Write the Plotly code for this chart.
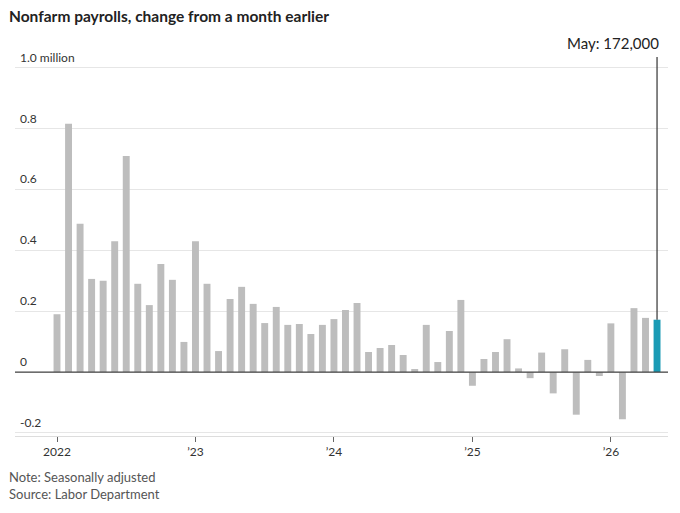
import plotly.graph_objects as go

values = [0.19,0.816,0.487,0.306,0.30,0.43,0.71,0.29,0.22,0.355,0.303,0.099,
          0.43,0.29,0.069,0.24,0.28,0.224,0.161,0.214,0.155,0.158,0.125,0.155,
          0.174,0.204,0.227,0.066,0.079,0.089,0.056,0.01,0.155,0.033,0.135,0.237,
          -0.045,0.043,0.066,0.108,0.012,-0.02,0.064,-0.07,0.075,-0.14,0.04,-0.013,
          0.16,-0.155,0.21,0.178,0.172]
tick_pos = [0,12,24,36,48]
tick_text = ["2022","’23","’24","’25","’26"]
ytick_vals = [-0.2,0,0.2,0.4,0.6,0.8,1.0]
ytick_text = ["-0.2","0","0.2","0.4","0.6","0.8","1.0 million"]

x = list(range(len(values)))
colors = ["#bdbdbd"]*(len(values)-1) + ["#1a9bb5"]
FONT = "Lato"
last = len(values)-1

fig = go.Figure(go.Bar(x=x, y=values, marker_color=colors, marker_line_width=0, width=0.6))

ann = []
for v, t in zip(ytick_vals, ytick_text):
    ann.append(dict(x=0, xref="paper", y=v, yref="y", text=t, showarrow=False,
                    xanchor="left", yanchor="bottom", xshift=3, yshift=1,
                    font=dict(size=12, color="#333", family=FONT)))
ann.append(dict(x=last, xref="x", y=1, yref="paper", text="May: 172,000", showarrow=False,
                xanchor="right", yanchor="bottom", xshift=4, yshift=3,
                font=dict(size=15, color="#222", family=FONT)))
ann.append(dict(x=-0.012, xref="paper", y=1 + 41/379, yref="paper",
                text="<b>Nonfarm payrolls, change from a month earlier</b>",
                showarrow=False, xanchor="left", yanchor="middle", font=dict(size=15.5, color="#222", family=FONT)))
ann.append(dict(x=-0.012, xref="paper", y=-0.082, yref="paper",
                text="Note: Seasonally adjusted<br>Source: Labor Department",
                showarrow=False, xanchor="left", yanchor="top", align="left",
                font=dict(size=13, color="#555", family=FONT)))

fig.update_layout(
    width=672, height=505, plot_bgcolor="white", paper_bgcolor="white",
    margin=dict(l=7, r=12, t=49, b=77), showlegend=False,
    annotations=ann,
    shapes=[dict(type="line", xref="x", yref="y", x0=last, x1=last,
                 y0=values[last], y1=1.035, line=dict(color="#333", width=1.2)),
            dict(type="line", xref="paper", yref="y", x0=0, x1=1, y0=0, y1=0,
                 line=dict(color="#444", width=1.2))],
    xaxis=dict(range=[-3.64, 52.95], tickvals=tick_pos, ticktext=tick_text, ticks="outside",
               ticklen=5, tickcolor="#666", showgrid=False, showline=True, linecolor="#ddd",
               tickfont=dict(size=12, color="#333", family=FONT)),
    yaxis=dict(range=[-0.21, 1.035], tickvals=ytick_vals, showticklabels=False,
               gridcolor="#e6e6e6", zeroline=False),
)
fig.write_html("out.html")
